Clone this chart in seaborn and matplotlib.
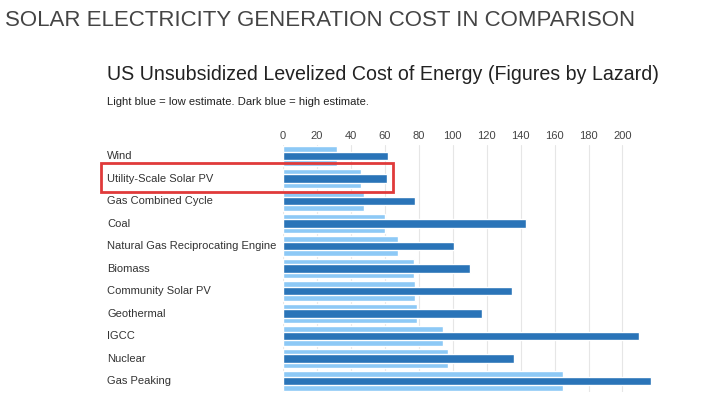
import matplotlib
matplotlib.use("Agg")
import matplotlib.pyplot as plt
import matplotlib.transforms as mtransforms
import seaborn as sns
import pandas as pd
from matplotlib.patches import Rectangle

categories = ["Wind", "Utility-Scale Solar PV", "Gas Combined Cycle", "Coal",
              "Natural Gas Reciprocating Engine", "Biomass", "Community Solar PV",
              "Geothermal", "IGCC", "Nuclear", "Gas Peaking"]
low_estimate = [32, 46, 48, 60, 68, 77, 78, 79, 94, 97, 165]
high_estimate = [62, 61, 78, 143, 101, 110, 135, 117, 210, 136, 217]
tick_values = [0, 20, 40, 60, 80, 100, 120, 140, 160, 180, 200]

df = pd.DataFrame({"category": categories, "low": low_estimate, "high": high_estimate})

sns.set_style("white")
plt.rcParams["font.family"] = ["Liberation Sans", "DejaVu Sans"]

fig = plt.figure(figsize=(7.14, 4.01), dpi=100)
ax = fig.add_axes([0.3964, 0.0218, 0.5182, 0.6172])

sns.barplot(data=df, y="category", x="low", orient="h", color="#8dc9f6",
            width=0.85, saturation=1, ax=ax, zorder=2)
sns.barplot(data=df, y="category", x="high", orient="h", color="#2a74b8",
            width=0.36, saturation=1, ax=ax, zorder=3)

ax.set_xlim(0, 218)
ax.set_xticks(tick_values)
ax.set_xticklabels([str(v) for v in tick_values])
ax.xaxis.tick_top()
ax.tick_params(axis="x", length=0, pad=3, labelsize=8, labelcolor="#444444")
ax.tick_params(axis="y", length=0, labelleft=False)
ax.set_xlabel("")
ax.set_ylabel("")
ax.grid(axis="x", color="#e6e6e6", linewidth=0.8, zorder=0)
ax.set_axisbelow(True)
for s in ax.spines.values():
    s.set_visible(False)

label_tr = mtransforms.blended_transform_factory(fig.transFigure, ax.transData)
for i, cat in enumerate(categories):
    ax.text(107 / 714, i, cat, transform=label_tr, ha="left", va="center",
            fontsize=8, color="#333333", clip_on=False)

fig.text(5 / 714, 1 - 20 / 401, "SOLAR ELECTRICITY GENERATION COST IN COMPARISON",
         fontsize=16, color="#444444", va="center", ha="left")
fig.text(107 / 714, 1 - 74 / 401, "US Unsubsidized Levelized Cost of Energy (Figures by Lazard)",
         fontsize=14.1, color="#222222", va="center", ha="left")
fig.text(107 / 714, 1 - 102 / 401, "Light blue = low estimate. Dark blue = high estimate.",
         fontsize=8.1, color="#222222", va="center", ha="left")

fig.patches.append(Rectangle((101 / 714, 1 - 192 / 401), 292 / 714, 29 / 401,
                             transform=fig.transFigure, fill=False,
                             edgecolor="#e03a3a", linewidth=2))

fig.savefig("out.png", dpi=100)
